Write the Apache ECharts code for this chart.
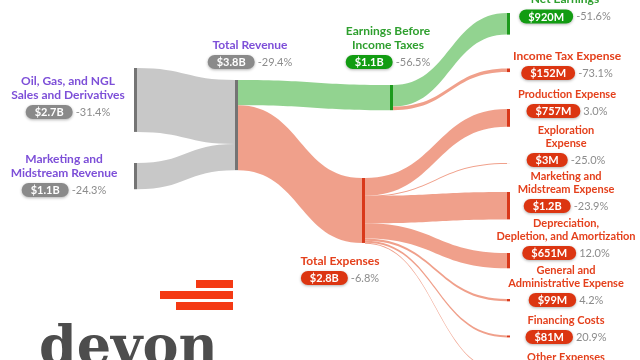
<!DOCTYPE html>
<html><head><meta charset="utf-8">
<script src="https://cdn.jsdelivr.net/npm/echarts@6/dist/echarts.min.js"></script>
<style>html,body{margin:0;padding:0;background:#fff}#c{width:640px;height:360px}</style>
</head><body><div id="c"></div>
<script>
// ---------------- data ----------------
const nodeNames = [
  'Oil, Gas, and NGL Sales and Derivatives', 'Marketing and Midstream Revenue',
  'Total Revenue',
  'Earnings Before Income Taxes', 'Total Expenses',
  'Net Earnings', 'Income Tax Expense', 'Production Expense', 'Exploration Expense',
  'Marketing and Midstream Expense', 'Depreciation, Depletion, and Amortization',
  'General and Administrative Expense', 'Financing Costs', 'Other Expenses'
];
const nodeTitles = [
  'Oil, Gas, and NGL\nSales and Derivatives', 'Marketing and\nMidstream Revenue',
  'Total Revenue',
  'Earnings Before\nIncome Taxes', 'Total Expenses',
  'Net Earnings', 'Income Tax Expense', 'Production Expense', 'Exploration\nExpense',
  'Marketing and\nMidstream Expense', 'Depreciation,\nDepletion, and Amortization',
  'General and\nAdministrative Expense', 'Financing Costs', 'Other Expenses'
];
const nodeAmounts = ['$2.7B', '$1.1B', '$3.8B', '$1.1B', '$2.8B', '$920M', '$152M', '$757M', '$3M', '$1.2B', '$651M', '$99M', '$81M', '$8M'];
const nodeChanges = ['-31.4%', '-24.3%', '-29.4%', '-56.5%', '-6.8%', '-51.6%', '-73.1%', '3.0%', '-25.0%', '-23.9%', '12.0%', '4.2%', '20.9%', ''];
const nodeGroups = ['revenue', 'revenue', 'revenue', 'profit', 'expense', 'profit', 'expense', 'expense', 'expense', 'expense', 'expense', 'expense', 'expense', 'expense'];

const linkSources = [
  'Oil, Gas, and NGL Sales and Derivatives', 'Marketing and Midstream Revenue',
  'Total Revenue', 'Total Revenue',
  'Earnings Before Income Taxes', 'Earnings Before Income Taxes',
  'Total Expenses', 'Total Expenses', 'Total Expenses', 'Total Expenses', 'Total Expenses', 'Total Expenses', 'Total Expenses'
];
const linkTargets = [
  'Total Revenue', 'Total Revenue',
  'Earnings Before Income Taxes', 'Total Expenses',
  'Net Earnings', 'Income Tax Expense',
  'Production Expense', 'Exploration Expense', 'Marketing and Midstream Expense',
  'Depreciation, Depletion, and Amortization', 'General and Administrative Expense',
  'Financing Costs', 'Other Expenses'
];
const linkValues = [2720, 1116, 1072, 2764, 920, 152, 757, 3, 1165, 651, 99, 81, 8]; // $M

// ---------------- layout & style ----------------
const W = 640, H = 360;
const KY = 0.0235; // px per $M
// [node left x, node top y, label centre x, pill centre y, name font size]
const place = {
  'Oil, Gas, and NGL Sales and Derivatives': [134, 68, 68, 112, 12],
  'Marketing and Midstream Revenue': [134, 163, 64, 190, 12],
  'Total Revenue': [235, 80, 250, 62, 12],
  'Earnings Before Income Taxes': [390, 85, 388, 62, 12],
  'Total Expenses': [362, 178, 340, 278, 12],
  'Net Earnings': [507, 13, 565, 16.5, 12],
  'Income Tax Expense': [507, 68.5, 567, 73, 12],
  'Production Expense': [507, 109, 567, 111, 11],
  'Exploration Expense': [507, 163, 566, 160, 11],
  'Marketing and Midstream Expense': [507, 192, 566, 206, 11],
  'Depreciation, Depletion, and Amortization': [507, 253, 566, 253, 11],
  'General and Administrative Expense': [507, 299, 566, 300, 11],
  'Financing Costs': [507, 335.5, 566, 337, 11],
  'Other Expenses': [507, 372, 566, 374, 11]
};
const palette = {
  revenue: {text: '#7d4fd8', pill: '#8a8a8a', node: '#747474', link: '#c8c8c8'},
  profit: {text: '#2e9f2e', pill: '#129c12', node: '#1d9a1d', link: '#92d390'},
  expense: {text: '#e4401c', pill: '#dc3511', node: '#d9391b', link: '#f0a08b'}
};
const FONT = 'Lato';

const leafTotal = linkValues.slice(4).reduce((a, b) => a + b, 0);
const gap = (H - KY * leafTotal) / 8;

const nodes = nodeNames.map((name, i) => {
  const p = place[name];
  const pal = palette[nodeGroups[i]];
  const fs = p[4];
  const lines = nodeTitles[i].split('\n').map(s => '{n|' + s + '}').join('\n');
  const txt = lines + '\n{p|' + nodeAmounts[i] + '}' + (nodeChanges[i] ? '{c|' + nodeChanges[i] + '}' : '');
  return {
    name: name,
    localX: p[0] / W,
    localY: p[1] / H,
    itemStyle: {color: pal.node, borderWidth: 0},
    label: {
      show: true,
      position: [p[2] - p[0], p[3] + 10 - p[1]],
      align: 'center',
      verticalAlign: 'bottom',
      formatter: () => txt,
      rich: {
        n: {fontFamily: FONT, fontSize: fs, fontWeight: 'bold', color: pal.text, lineHeight: fs + 2, align: 'center'},
        p: {fontFamily: FONT, fontSize: 11, fontWeight: 'bold', color: '#fff', backgroundColor: pal.pill,
            borderRadius: 8, padding: [2, 9, 1, 9], lineHeight: 20,
            shadowColor: 'rgba(0,0,0,0.3)', shadowBlur: 3, shadowOffsetY: 1},
        c: {fontFamily: FONT, fontSize: 11, color: '#8c8c8c', lineHeight: 20, padding: [0, 0, 0, 3]}
      }
    }
  };
});
const links = linkSources.map((s, i) => ({
  source: s,
  target: linkTargets[i],
  value: linkValues[i],
  lineStyle: {color: palette[nodeGroups[nodeNames.indexOf(linkTargets[i])]].link, opacity: 1}
}));

const chart = echarts.init(document.getElementById('c'), null, {renderer: 'canvas'});
chart.setOption({
  animation: false,
  backgroundColor: '#fff',
  series: [{
    type: 'sankey',
    left: 0, top: 0, width: W, height: H,
    nodeWidth: 3,
    nodeGap: gap,
    layoutIterations: 0,
    draggable: false,
    emphasis: {disabled: true},
    lineStyle: {curveness: 0.5, opacity: 1},
    data: nodes,
    links: links
  }],
  graphic: [
    {type: 'rect', shape: {x: 196, y: 280, width: 37, height: 8}, style: {fill: '#f43a14'}},
    {type: 'rect', shape: {x: 160, y: 291, width: 73, height: 8}, style: {fill: '#f43a14'}},
    {type: 'rect', shape: {x: 176, y: 302, width: 57, height: 8}, style: {fill: '#f43a14'}},
    {type: 'text', x: 39, y: 323, style: {text: 'devon', font: 'bold 54px "DejaVu Serif"', fill: '#4d4d4d', align: 'left', verticalAlign: 'top'}}
  ]
});
</script></body></html>
